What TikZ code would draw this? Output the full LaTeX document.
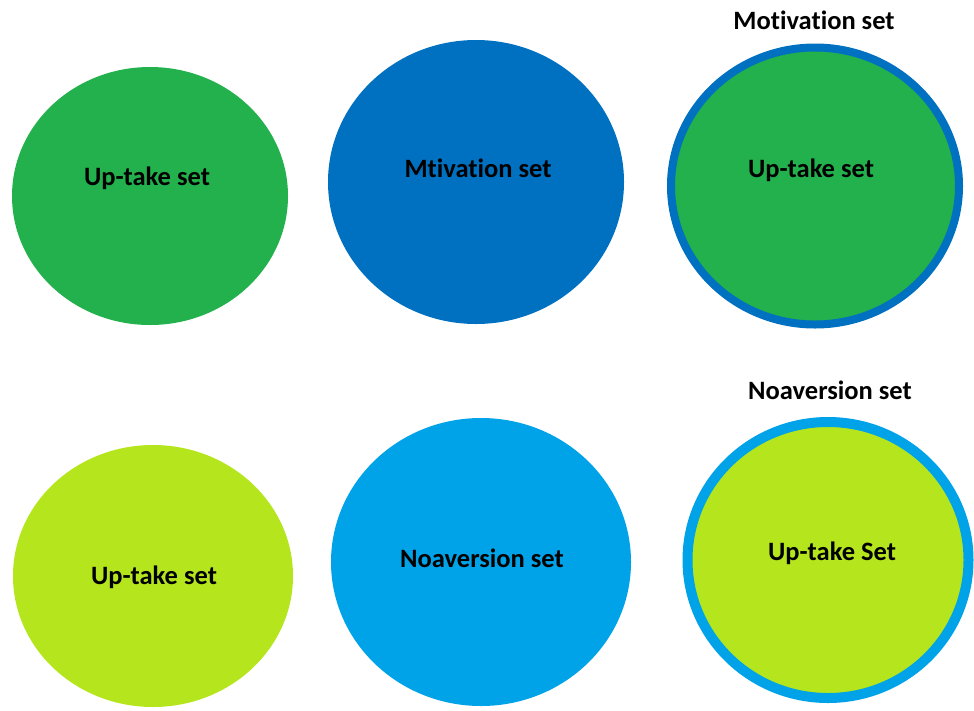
\documentclass[tikz,border=0pt]{standalone}
\usepackage{fontspec}
\setmainfont[Ligatures={NoCommon,NoContextual}]{Carlito}
\usetikzlibrary{shapes.geometric}
\definecolor{setgreen}{HTML}{22B14C}
\definecolor{setnavy}{HTML}{0070C0}
\definecolor{setlime}{HTML}{B5E61D}
\definecolor{setsky}{HTML}{00A2E8}
\tikzset{
  setdisc/.style={ellipse, inner sep=0pt, draw=none},
  ringdisc/.style={ellipse, inner sep=0pt},
  lbl/.style={font=\bfseries\fontsize{26.5}{30}\selectfont, text=black, inner sep=0pt}
}
\begin{document}
\begin{tikzpicture}[x=1pt,y=-1pt]
  \useasboundingbox (0,0) rectangle (974,710);
  % top row
  \node[setdisc, fill=setgreen, minimum width=276pt, minimum height=258pt] (ga) at (150,196) {};
  \node[lbl] at (147,178) (gat) {Up-take set};
  \node[setdisc, fill=setnavy, minimum width=296pt, minimum height=284pt] (mb) at (476,182) {};
  \node[lbl] at (478,168) (mbt) {Mtivation set};
  \node[ringdisc, fill=setgreen, draw=setnavy, line width=8pt, minimum width=288pt, minimum height=277pt] (gm) at (815,186) {};
  \node[lbl] at (811,170) (gmt) {Up-take set};
  \node[lbl] at (814,20) (gmc) {Motivation set};
  % bottom row
  \node[setdisc, fill=setlime, minimum width=280pt, minimum height=262pt] (la) at (153,576) {};
  \node[lbl] at (154,577) (lat) {Up-take set};
  \node[setdisc, fill=setsky, minimum width=300pt, minimum height=288pt] (nb) at (481,562) {};
  \node[lbl] at (482,558) (nbt) {Noaversion set};
  \node[ringdisc, fill=setlime, draw=setsky, line width=10pt, minimum width=281pt, minimum height=276pt] (ln) at (828,560) {};
  \node[lbl] at (832,553) (lnt) {Up-take Set};
  \node[lbl] at (830,390) (lnc) {Noaversion set};
\end{tikzpicture}
\end{document}
